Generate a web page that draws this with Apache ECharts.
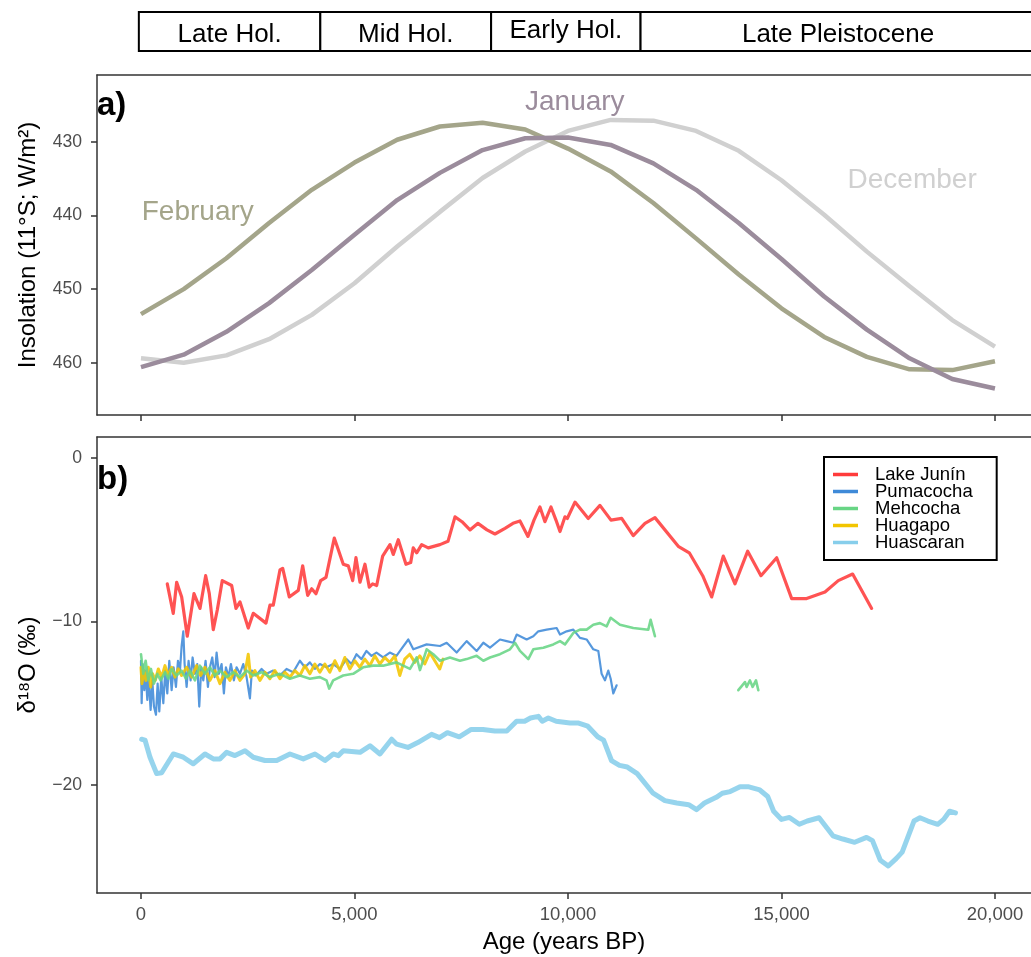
<!DOCTYPE html>
<html>
<head>
<meta charset="utf-8">
<script src="https://cdn.jsdelivr.net/npm/echarts@6/dist/echarts.min.js"></script>
<style>
  html, body { margin: 0; padding: 0; background: #fff; }
  #chart { width: 1031px; height: 957px; }
</style>
</head>
<body>
<div id="chart"></div>
<script>
  // period band
  const bandNames = ['Late Hol.', 'Mid Hol.', 'Early Hol.', 'Late Pleistocene'];
  const bandStart = [-50, 4200, 8200, 11700];
  const bandEnd = [4200, 8200, 11700, 20950];

  // insolation, 11°S (W/m2)
  const insAge = [0,1000,2000,3000,4000,5000,6000,7000,8000,9000,10000,11000,12000,13000,14000,15000,16000,17000,18000,19000,20000];
  const insFeb = [453.4,450.0,445.8,441.0,436.5,432.8,429.7,427.9,427.4,428.3,430.9,434.0,438.3,443.1,448.0,452.6,456.5,459.2,460.9,461.0,459.8];
  const insJan = [460.6,458.9,455.8,451.9,447.4,442.6,437.9,434.2,431.1,429.5,429.4,430.4,432.9,436.5,441.0,445.9,451.0,455.5,459.4,462.2,463.5];
  const insDec = [459.4,460.0,459.0,456.8,453.5,449.2,444.2,439.5,434.9,431.3,428.5,427.0,427.1,428.5,431.2,435.2,439.9,444.9,449.6,454.2,457.8];

  // d18O records
  const juninAge = [616,756,836,953,1084,1241,1382,1515,1600,1693,1787,1904,2124,2225,2319,2513,2630,2927,3021,3098,3255,3319,3473,3684,3787,3904,3998,4098,4208,4333,4527,4738,4855,4958,5035,5129,5246,5347,5426,5520,5660,5831,5909,6026,6206,6316,6377,6457,6574,6728,7002,7190,7354,7518,7705,7892,8103,8290,8525,8712,8876,9063,9204,9344,9461,9602,9719,9813,9930,9984,10164,10475,10749,11007,11258,11529,11803,12037,12583,12841,13155,13365,13637,13911,14209,14520,14888,15239,15590,16019,16330,16667,17112];
  const juninD18O = [-7.7,-9.5,-7.6,-8.5,-10.9,-8.3,-9.2,-7.2,-8.3,-10.5,-9.3,-7.5,-7.8,-9.2,-8.8,-10.4,-9.5,-10.1,-9.0,-9.0,-6.85,-6.75,-8.5,-8.1,-6.6,-8.4,-8.0,-8.3,-7.5,-7.3,-4.9,-6.5,-6.6,-7.5,-6.1,-7.6,-6.5,-7.9,-7.7,-7.8,-6.0,-5.3,-5.9,-5.0,-6.5,-6.4,-5.5,-5.8,-5.3,-5.5,-5.3,-5.1,-3.6,-3.9,-4.4,-4.0,-4.4,-4.65,-4.3,-4.0,-3.85,-4.8,-3.8,-3.0,-3.9,-3.0,-3.8,-4.5,-3.6,-3.7,-2.7,-3.7,-2.9,-3.8,-3.7,-4.75,-4.0,-3.65,-5.4,-5.8,-7.2,-8.5,-6.0,-7.7,-5.7,-7.2,-6.1,-8.6,-8.6,-8.2,-7.5,-7.1,-9.2];

  const pumaAge = [0,16,39,78,109,148,179,226,265,304,351,390,429,476,523,569,616,663,718,764,819,866,913,952,991,1022,1069,1115,1162,1209,1264,1318,1365,1412,1459,1513,1568,1615,1669,1724,1771,1825,1888,1942,1989,2051,2106,2176,2239,2317,2395,2473,2551,2597,2691,2824,2941,3097,3253,3409,3565,3721,3838,3955,4072,4189,4345,4501,4657,4813,4930,5047,5164,5281,5398,5515,5671,5827,5983,6066,6261,6378,6690,7003,7159,7393,7627,7861,8018,8174,8408,8564,8720,8798,9032,9188,9305,9501,9735,9813,9969,10125,10281,10437,10593,10710,10788,10866,10944,11000,11062,11140];
  const pumaD18O = [-12.4,-15.0,-12.6,-14.2,-13.0,-14.8,-13.4,-15.4,-13.6,-15.2,-15.7,-13.8,-15.5,-13.4,-15.0,-13.0,-14.4,-12.4,-14.2,-12.8,-14.0,-12.4,-13.0,-11.5,-10.6,-12.6,-14.0,-12.4,-13.6,-12.2,-13.2,-12.6,-15.2,-12.8,-13.6,-12.4,-14.0,-12.8,-12.2,-13.4,-11.9,-13.2,-12.6,-14.4,-12.8,-13.4,-12.6,-13.6,-12.8,-13.2,-12.6,-13.4,-14.7,-13.0,-13.3,-12.9,-13.2,-13.0,-13.3,-12.9,-13.1,-12.4,-12.8,-12.5,-12.9,-12.6,-12.8,-12.6,-12.9,-12.3,-12.6,-12.0,-12.3,-11.8,-12.1,-11.9,-12.2,-11.9,-12.1,-11.8,-11.1,-11.7,-11.4,-11.5,-11.3,-11.9,-11.2,-11.8,-11.3,-11.6,-11.1,-11.2,-11.3,-10.8,-11.1,-10.9,-10.6,-10.5,-10.4,-10.8,-10.6,-10.5,-11.0,-11.1,-11.7,-11.8,-13.2,-13.6,-13.0,-13.5,-14.4,-13.9];

  const mehAge = [0,55,109,172,234,304,382,460,562,640,718,835,952,1053,1147,1264,1381,1498,1615,1732,1849,2005,2161,2317,2473,2629,2824,3019,3253,3487,3721,3955,4189,4345,4407,4501,4735,4969,5203,5437,5671,5983,6300,6456,6534,6690,6846,7002,7236,7470,7627,7861,8018,8174,8408,8642,8759,8876,9071,9188,9423,9657,9813,9930,10125,10281,10437,10593,10749,10905,10999,11218,11530,11881,11936,12037,13000,13989,14068,14145,14184,14262,14325,14403,14458];
  const mehD18O = [-12.0,-13.2,-12.4,-13.6,-12.9,-13.8,-13.2,-13.6,-13.1,-13.5,-12.9,-13.3,-13.0,-13.5,-13.0,-13.6,-12.7,-13.2,-12.8,-13.3,-13.0,-13.4,-13.1,-13.4,-13.0,-13.3,-13.1,-13.4,-13.2,-13.5,-13.3,-13.5,-13.4,-13.6,-14.1,-13.6,-13.3,-13.2,-12.8,-12.7,-12.7,-12.5,-12.9,-12.2,-12.97,-11.7,-12.0,-12.4,-12.2,-12.4,-12.3,-12.1,-12.4,-12.2,-12.0,-11.7,-11.3,-11.8,-12.3,-11.7,-11.6,-11.4,-11.2,-11.4,-10.7,-10.5,-10.5,-10.2,-10.1,-10.3,-9.77,-10.2,-10.4,-10.5,-9.9,-10.9,null,-14.2,-13.95,-13.7,-14.0,-13.6,-14.0,-13.6,-14.2];

  const huaAge = [0,23,70,117,172,226,273,335,406,484,562,640,718,796,874,952,1069,1186,1303,1396,1498,1615,1732,1849,1966,2083,2200,2317,2434,2512,2566,2668,2785,2902,3019,3136,3253,3370,3487,3604,3721,3838,3955,4072,4189,4306,4423,4540,4657,4774,4891,5008,5125,5242,5359,5476,5593,5710,5827,5944,6061,6178,6295,6412,6529,6646,6763,6880,6997,7075];
  const huaD18O = [-12.8,-13.8,-13.0,-13.6,-12.8,-14.0,-13.2,-13.6,-12.9,-13.4,-12.7,-13.3,-12.8,-13.4,-12.9,-13.3,-12.8,-13.4,-12.7,-13.3,-12.8,-13.6,-13.0,-13.8,-13.1,-13.6,-13.0,-13.6,-13.2,-12.0,-13.4,-13.0,-13.6,-13.1,-13.5,-13.0,-13.5,-13.1,-13.4,-13.0,-13.3,-12.7,-13.2,-12.6,-13.1,-12.6,-13.1,-12.4,-13.0,-12.2,-12.9,-12.4,-12.8,-12.3,-12.7,-12.1,-12.6,-12.2,-12.5,-12.1,-13.3,-12.3,-12.0,-12.5,-12.1,-12.6,-11.9,-12.4,-12.9,-12.3];

  const huasAge = [16,94,211,367,484,757,991,1225,1499,1694,1850,2006,2201,2436,2630,2904,3178,3489,3801,4075,4309,4504,4621,4738,5129,5363,5597,5871,5988,6251,6483,6806,6991,7176,7454,7733,8009,8288,8567,8796,8984,9122,9307,9398,9539,9724,10047,10232,10464,10696,10834,11019,11206,11391,11621,11993,12269,12548,12827,13012,13197,13473,13614,13799,14030,14215,14492,14677,14817,15002,15187,15419,15604,15881,16206,16438,16714,16993,17131,17316,17501,17686,17827,18103,18244,18429,18660,18799,18937,19075];
  const huasD18O = [-17.2,-17.25,-18.3,-19.3,-19.25,-18.1,-18.3,-18.7,-18.1,-18.4,-18.4,-18.0,-18.2,-17.9,-18.3,-18.5,-18.5,-18.1,-18.4,-18.1,-18.5,-18.1,-18.2,-17.9,-18.0,-17.6,-18.1,-17.2,-17.5,-17.7,-17.4,-16.9,-17.1,-16.8,-17.05,-16.6,-16.6,-16.7,-16.7,-16.1,-16.1,-15.9,-15.8,-16.1,-15.9,-16.1,-16.2,-16.2,-16.4,-17.05,-17.25,-18.5,-18.8,-18.9,-19.3,-20.5,-20.95,-21.1,-21.2,-21.5,-21.1,-20.75,-20.5,-20.4,-20.1,-20.1,-20.3,-20.7,-21.6,-22.1,-21.98,-22.4,-22.2,-22.0,-23.1,-23.3,-23.5,-23.2,-23.4,-24.6,-24.95,-24.5,-24.1,-22.2,-22.0,-22.2,-22.4,-22.1,-21.6,-21.7];

  const xTicks = [0, 5000, 10000, 15000, 20000];
  const insTicks = [430, 440, 450, 460];
  const d18oTicks = [-20, -10, 0];

  const FONT = '"Liberation Sans", Arial, Helvetica, sans-serif';
  const XMIN = -1030, XMAX = 20844;

  function zip(xs, ys) { return xs.map((x, i) => [x, ys[i]]); }

  const axisLine = { show: true, onZero: false, lineStyle: { color: '#333', width: 1.5 } };
  const tickStyle = { color: '#333', width: 1.5 };
  const labelStyle = { color: '#4d4d4d', fontSize: 17.6, fontFamily: FONT };
  const titleStyle = { color: '#000', fontSize: 24, fontFamily: FONT };
  const minus = v => (v < 0 ? '\u2212' + Math.abs(v) : String(v));

  const bandLift = [3, 3, -1, 3];

  // top frame line of a panel (no right side, as in the cropped original)
  function topFrame(gridIndex) {
    return { gridIndex: gridIndex, type: 'value', position: 'top', min: XMIN, max: XMAX,
      axisLine: axisLine, axisTick: { show: false }, axisLabel: { show: false }, splitLine: { show: false } };
  }

  function insSeries(name, ages, vals, color, at) {
    return {
      name: name, type: 'line', xAxisIndex: 1, yAxisIndex: 1,
      data: zip(ages, vals), symbol: 'none',
      lineStyle: { color: color, width: 4.5 }, itemStyle: { color: color },
      markPoint: {
        symbol: 'circle', symbolSize: 0, silent: true,
        label: { show: true, position: 'inside', formatter: name, color: color, fontSize: 28, fontFamily: FONT },
        data: [{ coord: at }]
      }
    };
  }

  function isoSeries(name, ages, vals, color, width) {
    return {
      name: name, type: 'line', xAxisIndex: 2, yAxisIndex: 2,
      data: zip(ages, vals), symbol: 'none', connectNulls: false,
      lineStyle: { color: color, width: width, opacity: 0.88, join: 'round', cap: 'round' },
      itemStyle: { color: color }
    };
  }

  const chart = echarts.init(document.getElementById('chart'));
  const option = {
    animation: false,
    backgroundColor: '#fff',
    textStyle: { fontFamily: FONT },
    grid: [
      { left: 97, top: 12, right: 0, height: 39 },
      { left: 97, top: 75, right: 0, height: 340 },
      { left: 97, top: 437, right: 0, height: 456 }
    ],
    xAxis: [
      { gridIndex: 0, type: 'value', min: XMIN, max: XMAX, show: false },
      { gridIndex: 1, type: 'value', min: XMIN, max: XMAX, axisLine: axisLine,
        axisTick: { show: true, length: 6, lineStyle: tickStyle, customValues: xTicks },
        axisLabel: { show: false }, splitLine: { show: false } },
      { gridIndex: 2, type: 'value', min: XMIN, max: XMAX, axisLine: axisLine,
        axisTick: { show: true, length: 6, lineStyle: tickStyle, customValues: xTicks },
        axisLabel: Object.assign({ customValues: xTicks, margin: 12 }, labelStyle, { fontSize: 18.5 }),
        splitLine: { show: false },
        name: 'Age (years BP)', nameLocation: 'middle', nameGap: 37, nameTextStyle: titleStyle },
      topFrame(1),
      topFrame(2)
    ],
    yAxis: [
      { gridIndex: 0, type: 'value', min: 0, max: 1, show: false },
      { gridIndex: 1, type: 'value', inverse: true, min: 420.9, max: 467.1, axisLine: axisLine,
        axisTick: { show: true, length: 6, lineStyle: tickStyle, customValues: insTicks },
        axisLabel: Object.assign({ customValues: insTicks, margin: 15 }, labelStyle),
        splitLine: { show: false },
        name: 'Insolation (11°S; W/m²)', nameLocation: 'middle', nameGap: 57, nameTextStyle: titleStyle },
      { gridIndex: 2, type: 'value', min: -26.6, max: 1.28, axisLine: axisLine,
        axisTick: { show: true, length: 6, lineStyle: tickStyle, customValues: d18oTicks },
        axisLabel: Object.assign({ customValues: d18oTicks, margin: 15, formatter: minus }, labelStyle),
        splitLine: { show: false },
        name: 'δ¹⁸O (‰)', nameLocation: 'middle', nameGap: 57, nameTextStyle: titleStyle }
    ],
    legend: {
      data: ['Lake Junín', 'Pumacocha', 'Mehcocha', 'Huagapo', 'Huascaran'],
      orient: 'vertical', left: 824, top: 457,
      icon: 'rect', itemWidth: 25, itemHeight: 3.5, itemGap: -2,
      padding: [8, 24, 8, 9],
      borderColor: '#000', borderWidth: 2, backgroundColor: '#fff',
      selectedMode: false,
      textStyle: { fontSize: 18.5, color: '#000', lineHeight: 16, fontFamily: FONT, padding: [0, 0, 0, 12] }
    },
    graphic: [
      { type: 'text', x: 97, y: 106, z: 100, style: { text: 'a)', font: 'bold 33px ' + FONT, fill: '#000', verticalAlign: 'middle' } },
      { type: 'text', x: 97, y: 480, z: 100, style: { text: 'b)', font: 'bold 33px ' + FONT, fill: '#000', verticalAlign: 'middle' } }
    ],
    series: [
      {
        type: 'custom', xAxisIndex: 0, yAxisIndex: 0, silent: true,
        data: bandStart.map((s, i) => [s, bandEnd[i]]),
        encode: { x: [0, 1] },
        renderItem: function (params, api) {
          const a = api.coord([api.value(0), 1]);
          const b = api.coord([api.value(1), 0]);
          return {
            type: 'rect',
            shape: { x: a[0], y: a[1], width: b[0] - a[0], height: b[1] - a[1] },
            style: { fill: '#fff', stroke: '#000', lineWidth: 2 },
            textContent: { style: { text: bandNames[params.dataIndex], fontSize: 26, fontFamily: FONT, fill: '#000' } },
            textConfig: { position: 'inside', offset: [0, bandLift[params.dataIndex]] }
          };
        }
      },
      insSeries('December', insAge, insDec, '#d0d0d0', [18060, 435.2]),
      insSeries('February', insAge, insFeb, '#a4a58a', [1330, 439.6]),
      insSeries('January', insAge, insJan, '#9b8c9c', [10160, 424.6]),
      isoSeries('Lake Junín', juninAge, juninD18O, '#ff3b3b', 3.2),
      isoSeries('Pumacocha', pumaAge, pumaD18O, '#3f8ad8', 2.2),
      isoSeries('Huagapo', huaAge, huaD18O, '#f2c500', 3),
      isoSeries('Mehcocha', mehAge, mehD18O, '#68d585', 2.6),
      isoSeries('Huascaran', huasAge, huasD18O, '#87ceeb', 5)
    ]
  };
  chart.setOption(option);
</script>
</body>
</html>
